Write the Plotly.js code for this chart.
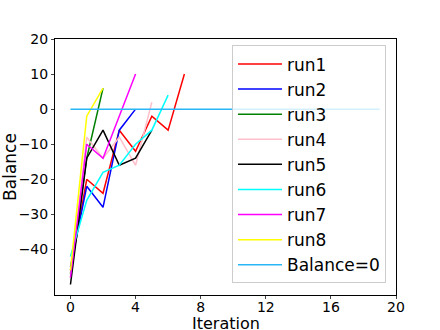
<!DOCTYPE html>
<html>
<head>
<meta charset="utf-8">
<script src="https://cdn.plot.ly/plotly-3.0.1.min.js"></script>
<style>
  body { margin: 0; background: #fff; }
  #chart { width: 440px; height: 330px; }
</style>
</head>
<body>
<div id="chart"></div>
<script>
// valores
const runNames = ['run1', 'run2', 'run3', 'run4', 'run5', 'run6', 'run7', 'run8'];
const runColors = ['red', 'blue', 'green', 'pink', 'black', 'cyan', 'magenta', 'yellow'];
const run1 = [-46, -20, -24, -6, -12, -2, -6, 10];
const run2 = [-45, -22, -28, -6, 0];
const run3 = [-47, -14, 6];
const run4 = [-48, -8, -14, -8, -16, 2];
const run5 = [-50, -14, -6, -16, -14, -6];
const run6 = [-42, -26, -18, -16, -10, -6, 4];
const run7 = [-48, -10, -14, -2, 10];
const run8 = [-46, -2, 6];
const runs = [run1, run2, run3, run4, run5, run6, run7, run8];
const zeroX = [0, 19];
const zeroY = [0, 0];

const data = [];
for (let i = 0; i < runs.length; i++) {
    data.push({
        x: runs[i].map((v, k) => k),
        y: runs[i],
        type: 'scatter',
        mode: 'lines',
        name: runNames[i],
        line: { color: runColors[i], width: 1.5 }
    });
}
data.push({
    x: zeroX,
    y: zeroY,
    type: 'scatter',
    mode: 'lines',
    name: 'Balance=0',
    line: { color: '#29b6f6', width: 1.5 }
});

const layout = {
    width: 440,
    height: 330,
    margin: { l: 55, r: 44, t: 39, b: 35 },
    paper_bgcolor: 'white',
    plot_bgcolor: 'white',
    font: { family: 'DejaVu Sans', size: 14, color: 'black' },
    showlegend: true,
    xaxis: {
        range: [-0.95, 20],
        tickvals: [0, 4, 8, 12, 16, 20],
        ticks: 'outside',
        ticklen: 3,
        ticklabelstandoff: -4,
        showgrid: false,
        zeroline: false,
        showline: true,
        mirror: true,
        linecolor: 'black',
        linewidth: 1
    },
    yaxis: {
        range: [-53, 20],
        tickvals: [-40, -30, -20, -10, 0, 10, 20],
        ticktext: ['\u221240', '\u221230', '\u221220', '\u221210', '0', '10', '20'],
        ticks: 'outside',
        ticklen: 3,
        showgrid: false,
        zeroline: false,
        showline: true,
        mirror: true,
        linecolor: 'black',
        linewidth: 1,
        title: { text: 'Balance', font: { size: 17 }, standoff: 4 }
    },
    // titulo del eje x como anotacion, debajo de las etiquetas
    annotations: [{
        text: 'Iteration',
        xref: 'paper',
        yref: 'paper',
        x: 0.5,
        y: 0,
        xanchor: 'center',
        yanchor: 'top',
        yshift: -18,
        borderpad: 0,
        showarrow: false,
        font: { size: 16 }
    }],
    legend: {
        x: 0.519,
        y: 0.975,
        xanchor: 'left',
        yanchor: 'top',
        bgcolor: 'rgba(255,255,255,0.8)',
        bordercolor: '#cccccc',
        borderwidth: 1,
        font: { size: 17 },
        itemwidth: 44
    }
};

Plotly.newPlot('chart', data, layout, { displayModeBar: false });
</script>
</body>
</html>
